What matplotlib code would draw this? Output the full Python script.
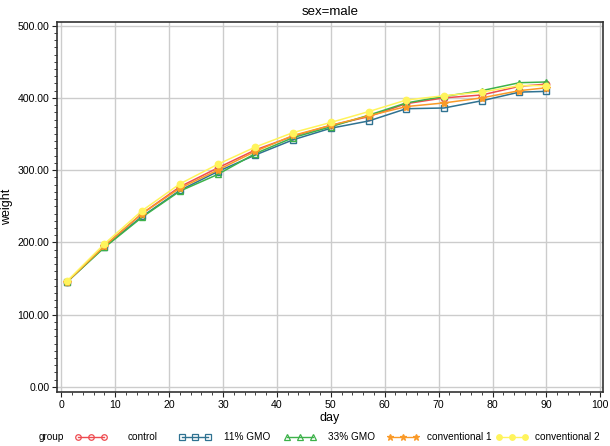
import matplotlib
matplotlib.use("Agg")
import matplotlib.pyplot as plt
from matplotlib.ticker import MultipleLocator, FormatStrFormatter
from matplotlib.lines import Line2D

plt.rcParams['font.family'] = ['Liberation Sans', 'DejaVu Sans']

days = [1, 8, 15, 22, 29, 36, 43, 50, 57, 64, 71, 78, 85, 90]
control = [145, 195, 240, 277, 303, 328, 347, 362, 374, 392, 400, 404, 416, 419]
gmo11 = [145, 194, 236, 272, 298, 321, 342, 358, 368, 385, 386, 396, 408, 409]
gmo33 = [145, 193, 235, 271, 294, 323, 345, 360, 376, 393, 402, 410, 421, 422]
conv1 = [145, 195, 240, 275, 300, 326, 348, 362, 375, 388, 393, 400, 410, 414]
conv2 = [146, 198, 244, 281, 308, 332, 352, 366, 381, 397, 403, 408, 417, 417]

group_names = ["control", "11% GMO", "33% GMO", "conventional 1", "conventional 2"]
series = [control, gmo11, gmo33, conv1, conv2]
colors = ["#EE4B50", "#2F7291", "#3DB24A", "#FA9A28", "#FFF45C"]
markers = ["o", "s", "^", "*", "o"]
fills = [False, False, False, True, True]

W, H = 610, 446
fig = plt.figure(figsize=(W / 100, H / 100), dpi=100)
ax = fig.add_axes([57 / W, 1 - 392 / H, (603 - 57) / W, (392 - 22) / H])

for name, vals, c, m, f in zip(group_names, series, colors, markers, fills):
    ms = 4.6 if m != "*" else 6
    ax.plot(days, vals, color=c, lw=1.1, marker=m, markersize=ms,
            markerfacecolor=(c if f else "none"), markeredgecolor=c,
            markeredgewidth=1.0, zorder=3)

ax.set_xlim(-0.8, 100.5)
ax.set_ylim(-7, 505)
ax.xaxis.set_major_locator(MultipleLocator(10))
ax.xaxis.set_minor_locator(MultipleLocator(2))
ax.yaxis.set_major_locator(MultipleLocator(100))
ax.yaxis.set_minor_locator(MultipleLocator(10))
ax.yaxis.set_major_formatter(FormatStrFormatter("%.2f"))
ax.tick_params(which="both", direction="out", labelsize=7.6, color="#222222", pad=2)
ax.tick_params(which="major", length=3.5)
ax.tick_params(which="minor", length=2.2)
ax.grid(True, which="major", color="#cccccc", lw=1.0, zorder=0)
for s in ax.spines.values():
    s.set_color("#333333")
    s.set_linewidth(1.2)

ax.set_xlabel("day", fontsize=9, labelpad=2)
ax.set_ylabel("weight", fontsize=9, labelpad=3)
ax.set_title("sex=male", fontsize=9.5, pad=5)

# legend drawn manually (figure pixel layout)
ly = 1 - 437 / H
fig.text(39 / W, ly, "group", fontsize=7.2, ha="left", va="center")
handle_x = [78, 182, 287, 390, 499]
text_x = [128, 224, 328, 427, 535]
hw = 26
for name, c, m, f, hx, tx in zip(group_names, colors, markers, fills, handle_x, text_x):
    xx = [hx / W, (hx + hw / 2) / W, (hx + hw) / W]
    ms = 4 if m != "*" else 5
    fig.add_artist(Line2D(xx, [ly] * 3, transform=fig.transFigure, color=c, lw=1.0,
                          marker=m, markersize=ms,
                          markerfacecolor=(c if f else "none"), markeredgecolor=c,
                          markeredgewidth=0.9))
    fig.text(tx / W, ly, name, fontsize=7.2, ha="left", va="center")

fig.savefig("out.png", dpi=100)
